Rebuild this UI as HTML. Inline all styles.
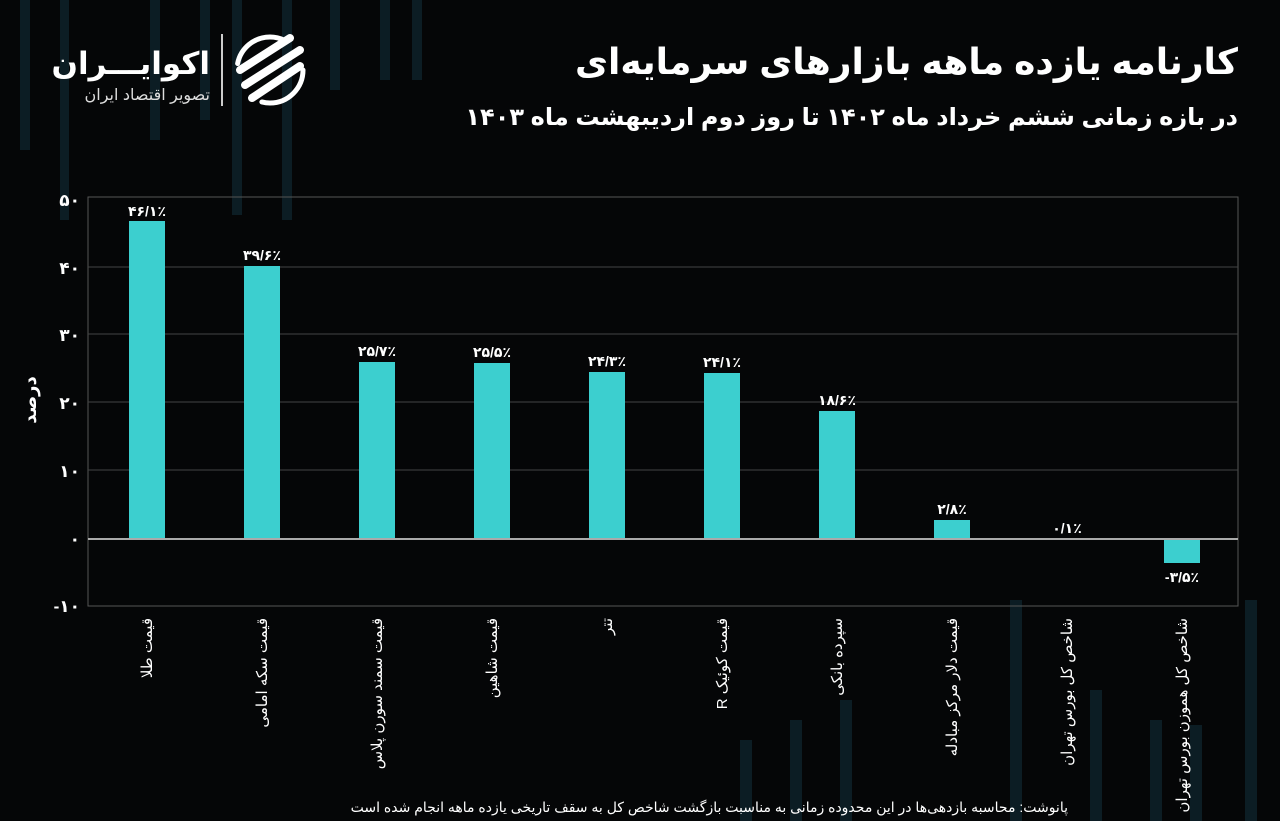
<!DOCTYPE html>
<html><head><meta charset="utf-8"><style>
html,body{margin:0;padding:0;background:#050607;}
svg{display:block;font-family:"Liberation Sans","Noto Sans CJK SC","DejaVu Sans",sans-serif;}
</style></head><body>
<svg width="1280" height="821" viewBox="0 0 1280 821" xmlns="http://www.w3.org/2000/svg">
<rect width="1280" height="821" fill="#050607"/>
<g fill="#0c1d24">
<rect x="20" y="0" width="10" height="150"/><rect x="60" y="0" width="9" height="220"/><rect x="150" y="0" width="10" height="140"/>
<rect x="200" y="0" width="10" height="120"/><rect x="232" y="0" width="10" height="215"/><rect x="282" y="0" width="10" height="220"/>
<rect x="330" y="0" width="10" height="90"/><rect x="380" y="0" width="10" height="80"/><rect x="412" y="0" width="10" height="80"/>
<rect x="1010" y="600" width="12" height="221"/><rect x="1090" y="690" width="12" height="131"/><rect x="1150" y="720" width="12" height="101"/>
<rect x="1190" y="725" width="12" height="96"/><rect x="1245" y="600" width="12" height="221"/><rect x="790" y="720" width="12" height="101"/>
<rect x="740" y="740" width="12" height="81"/><rect x="840" y="700" width="12" height="121"/>
</g>
<text x="210" y="74" fill="#fff" font-size="31" font-weight="bold" text-anchor="start" direction="rtl">اکوایـــران</text>
<text x="210" y="100" fill="#ddd" font-size="16" text-anchor="start" direction="rtl">تصویر اقتصاد ایران</text>
<rect x="221" y="34" width="2" height="72" fill="#ccc"/>
<g fill="none" stroke="#fff" stroke-width="8" stroke-linecap="round">
<path d="M245 85 L300 50"/><path d="M240 70 L290 38"/><path d="M252 98 L300 66"/>
<circle cx="270" cy="70" r="33" stroke-width="5" stroke-dasharray="60 50"/>
</g>
<text x="1238" y="74" fill="#fff" font-size="36" font-weight="bold" text-anchor="start" direction="rtl">کارنامه یازده ماهه بازارهای سرمایه‌ای</text>
<text x="1238" y="125" fill="#fff" font-size="24" font-weight="bold" text-anchor="start" direction="rtl">در بازه زمانی ششم خرداد ماه ۱۴۰۲ تا روز دوم اردیبهشت ماه ۱۴۰۳</text>
<rect x="88" y="197" width="1150" height="409" fill="none" stroke="#555" stroke-width="1"/>
<g stroke="#444" stroke-width="1">
<line x1="88" y1="267" x2="1238" y2="267"/><line x1="88" y1="334" x2="1238" y2="334"/>
<line x1="88" y1="402" x2="1238" y2="402"/><line x1="88" y1="470" x2="1238" y2="470"/>
</g>
<g fill="#fff" font-size="17" font-weight="bold" text-anchor="end">
<text x="80" y="206">۵۰</text><text x="80" y="274">۴۰</text><text x="80" y="341">۳۰</text>
<text x="80" y="409">۲۰</text><text x="80" y="477">۱۰</text><text x="80" y="545">۰</text><text x="80" y="612">-۱۰</text>
</g>
<text transform="translate(36,400) rotate(-90)" fill="#fff" font-size="18" font-weight="bold" text-anchor="middle">درصد</text>
<g fill="#3ccfcf">
<rect x="129" y="221" width="36" height="318"/>
<rect x="244" y="266" width="36" height="273"/>
<rect x="359" y="362" width="36" height="177"/>
<rect x="474" y="363" width="36" height="176"/>
<rect x="589" y="372" width="36" height="167"/>
<rect x="704" y="373" width="36" height="166"/>
<rect x="819" y="411" width="36" height="128"/>
<rect x="934" y="520" width="36" height="19"/>
<rect x="1164" y="539" width="36" height="24"/>
</g>
<line x1="88" y1="539" x2="1238" y2="539" stroke="#aaa" stroke-width="2"/>
<g fill="#fff" font-size="14" font-weight="bold" text-anchor="middle">
<text x="147" y="216">۴۶/۱٪</text><text x="262" y="260">۳۹/۶٪</text><text x="377" y="356">۲۵/۷٪</text>
<text x="492" y="357">۲۵/۵٪</text><text x="607" y="366">۲۴/۳٪</text><text x="722" y="367">۲۴/۱٪</text>
<text x="837" y="405">۱۸/۶٪</text><text x="952" y="514">۲/۸٪</text><text x="1067" y="533">۰/۱٪</text>
<text x="1182" y="582">-۳/۵٪</text>
</g>
<g fill="#fff" font-size="15" text-anchor="start" direction="rtl">
<text transform="translate(152,618) rotate(-90)">قیمت طلا</text>
<text transform="translate(267,618) rotate(-90)">قیمت سکه امامی</text>
<text transform="translate(382,618) rotate(-90)">قیمت سمند سورن پلاس</text>
<text transform="translate(497,618) rotate(-90)">قیمت شاهین</text>
<text transform="translate(612,618) rotate(-90)">تتر</text>
<text transform="translate(727,618) rotate(-90)">قیمت کوئیک R</text>
<text transform="translate(842,618) rotate(-90)">سپرده بانکی</text>
<text transform="translate(957,618) rotate(-90)">قیمت دلار مرکز مبادله</text>
<text transform="translate(1072,618) rotate(-90)">شاخص کل بورس تهران</text>
<text transform="translate(1187,618) rotate(-90)">شاخص کل هموزن بورس تهران</text>
</g>
<text x="1068" y="812" fill="#fff" font-size="14" text-anchor="start" direction="rtl">پانوشت: محاسبه بازدهی‌ها در این محدوده زمانی به مناسبت بازگشت شاخص کل به سقف تاریخی یازده ماهه انجام شده است</text>
</svg>
</body></html>
